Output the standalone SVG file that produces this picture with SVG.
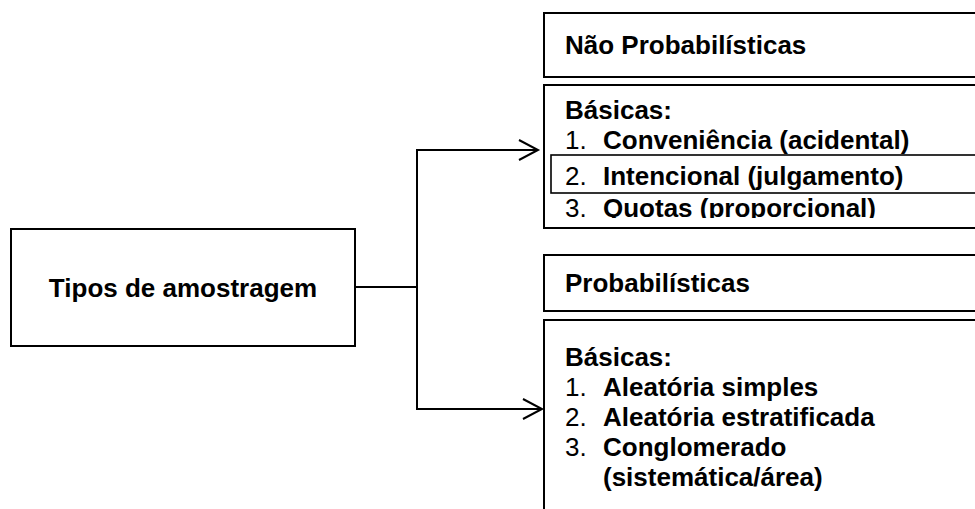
<svg xmlns="http://www.w3.org/2000/svg" width="975" height="509" viewBox="0 0 975 509">
  <style>
    .box { fill: #fff; stroke: #000; stroke-width: 2; }
    .inner { fill: none; stroke: #000; stroke-width: 1.6; }
    .t { font-family: "Liberation Sans", Arial, sans-serif; font-size: 26px; fill: #000; }
    .b { font-weight: bold; }
    .wire { fill: none; stroke: #000; stroke-width: 2; stroke-linejoin: miter; }
  </style>
  <defs>
    <clipPath id="clipBasic1">
      <rect x="545" y="86" width="440" height="132"/>
    </clipPath>
  </defs>
  <rect width="975" height="509" fill="#fff"/>

  <!-- Root node -->
  <g id="tipos">
    <rect class="box" x="11" y="229" width="344" height="117"/>
    <text class="t b" x="183" y="297" text-anchor="middle">Tipos de amostragem</text>
  </g>

  <!-- Non-probabilistic header -->
  <g id="nao-prob">
    <rect class="box" x="544" y="13" width="450" height="64"/>
    <text class="t b" x="565" y="54">Não Probabilísticas</text>
  </g>

  <!-- Non-probabilistic list, last line cut by the frame -->
  <g id="nao-prob-basicas">
    <rect class="box" x="544" y="85" width="450" height="143"/>
    <rect class="inner" x="551" y="155" width="440" height="38"/>
    <g clip-path="url(#clipBasic1)">
      <text class="t b" x="565" y="119">Básicas:</text>
      <text class="t" x="565" y="149">1.</text>
      <text class="t b" x="603" y="149">Conveniência (acidental)</text>
      <text class="t" x="565" y="185">2.</text>
      <text class="t b" x="603" y="185">Intencional (julgamento)</text>
      <text class="t" x="565" y="217">3.</text>
      <text class="t b" x="603" y="217">Quotas (proporcional)</text>
    </g>
  </g>

  <!-- Probabilistic header -->
  <g id="prob">
    <rect class="box" x="544" y="255" width="450" height="56"/>
    <text class="t b" x="565" y="292">Probabilísticas</text>
  </g>

  <!-- Probabilistic list -->
  <g id="prob-basicas">
    <rect class="box" x="544" y="320" width="450" height="220"/>
    <text class="t b" x="565" y="366">Básicas:</text>
    <text class="t" x="565" y="396">1.</text>
    <text class="t b" x="603" y="396">Aleatória simples</text>
    <text class="t" x="565" y="426">2.</text>
    <text class="t b" x="603" y="426">Aleatória estratificada</text>
    <text class="t" x="565" y="456">3.</text>
    <text class="t b" x="603" y="456">Conglomerado</text>
    <text class="t b" x="603" y="486">(sistemática/área)</text>
  </g>

  <!-- Connectors -->
  <g id="connectors">
    <path class="wire" d="M355 287 H417"/>
    <path class="wire" d="M417 150 V409"/>
    <path class="wire" d="M416 150 H537"/>
    <path class="wire" d="M416 409 H541"/>
    <polyline class="wire" points="519,140 538,150 519,160"/>
    <polyline class="wire" points="523,399 542,409 523,419"/>
  </g>
</svg>
